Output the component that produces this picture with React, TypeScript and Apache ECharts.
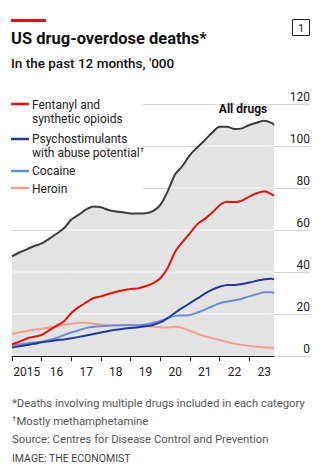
import React, { useEffect, useRef } from "react";
import * as echarts from "echarts";

// Time points (year fractions), roughly quarterly
const years = [
  2015, 2015.25, 2015.5, 2015.75,
  2016, 2016.25, 2016.5, 2016.75,
  2017, 2017.25, 2017.5, 2017.75,
  2018, 2018.25, 2018.5, 2018.75,
  2019, 2019.25, 2019.5, 2019.75,
  2020, 2020.25, 2020.5, 2020.75,
  2021, 2021.25, 2021.5, 2021.75,
  2022, 2022.25, 2022.5, 2022.75,
  2023, 2023.25, 2023.5, 2023.75, 2023.83,
];

// Deaths in the past 12 months, '000
const allDrugs = [
  47.5, 49.3, 50.8, 52.4,
  53.6, 55.8, 58.2, 60.8,
  65.0, 67.3, 69.8, 71.2,
  70.8, 69.5, 68.8, 68.4,
  67.9, 67.9, 68.0, 69.0,
  72.0, 78.5, 86.5, 90.6,
  95.8, 99.4, 102.8, 106.4,
  109.2, 109.2, 108.1, 108.4,
  110.0, 111.1, 112.0, 111.0, 110.0,
];
const fentanyl = [
  5.6, 6.8, 8.3, 9.2,
  10.0, 12.2, 14.3, 16.5,
  20.5, 23.3, 25.5, 27.6,
  28.4, 29.5, 30.5, 31.3,
  31.9, 32.2, 33.2, 34.6,
  37.0, 42.0, 49.7, 54.3,
  58.5, 62.8, 65.3, 68.3,
  71.8, 73.4, 73.3, 74.0,
  75.9, 77.5, 78.5, 77.0, 76.2,
];
const psychostimulants = [
  4.0, 4.6, 5.2, 5.8,
  6.5, 7.0, 7.5, 7.9,
  8.4, 9.1, 9.8, 10.5,
  11.2, 11.9, 12.5, 13.0,
  13.3, 13.7, 14.2, 14.8,
  16.0, 18.1, 20.6, 23.0,
  25.2, 27.4, 29.7, 31.6,
  33.0, 33.8, 33.8, 34.3,
  35.0, 35.8, 36.6, 36.8, 36.5,
];
const cocaine = [
  4.9, 5.5, 6.0, 6.4,
  6.8, 7.6, 8.6, 10.0,
  11.2, 12.3, 13.3, 13.9,
  14.2, 14.4, 14.5, 14.6,
  14.6, 14.6, 15.0, 15.8,
  16.7, 18.0, 19.1, 19.3,
  19.5, 20.7, 22.1, 23.7,
  25.1, 25.9, 26.5, 27.3,
  28.4, 29.4, 30.3, 30.3, 29.8,
];
const heroin = [
  10.5, 11.3, 11.9, 12.5,
  12.9, 13.6, 14.2, 14.8,
  15.4, 15.8, 15.8, 15.4,
  14.9, 14.8, 14.8, 14.8,
  14.7, 14.6, 14.3, 14.0,
  13.7, 13.6, 13.9, 13.3,
  12.0, 10.6, 9.4, 8.5,
  7.6, 6.7, 5.9, 5.3,
  4.8, 4.4, 4.1, 3.9, 3.8,
];

const yTickValues = [0, 20, 40, 60, 80, 100, 120];
const xStart = 2015;
const xEnd = 2023.83;

const FONT = "Roboto, 'Noto Sans', sans-serif";
const RED = "#E3120B";
const DARK_BLUE = "#23399A";
const LIGHT_BLUE = "#6A8ED3";
const SALMON = "#F5A08C";

const pairs = (arr: number[]) => years.map((x, i) => [x, arr[i]]);

// gridline segments that lie inside the shaded "All drugs" area
function levelSegments(g: number) {
  const pts: any[] = [];
  for (let i = 0; i < years.length; i++) {
    const v = allDrugs[i];
    if (i > 0) {
      const p = allDrugs[i - 1];
      if (p < g !== v < g) {
        const t = (g - p) / (v - p);
        pts.push([years[i - 1] + t * (years[i] - years[i - 1]), g]);
      }
    }
    pts.push(v >= g ? [years[i], g] : [years[i], "-"]);
  }
  return pts;
}

const supRich = {
  sup: { fontFamily: FONT, fontSize: 8, fill: "#222", padding: [0, 0, 5, 0] },
};

export default function App() {
  const ref = useRef<HTMLDivElement>(null);

  useEffect(() => {
    const chart = echarts.init(ref.current!, null, { renderer: "svg" });

    const gridSeries = yTickValues
      .filter((g) => g > 0 && g < 120)
      .map((g) => ({
        type: "line",
        xAxisIndex: 1,
        yAxisIndex: 1,
        data: levelSegments(g),
        symbol: "none",
        silent: true,
        connectNulls: false,
        lineStyle: { color: "#fafafa", width: 1 },
        z: 3,
      }));

    const lineSeries = (name: string, arr: number[], color: string, z = 5) => ({
      name,
      type: "line",
      xAxisIndex: 1,
      yAxisIndex: 1,
      data: pairs(arr),
      symbol: "none",
      smooth: 0.3,
      lineStyle: { color, width: 2 },
      z,
    });

    const legendText = (y: number, t: string) => ({
      type: "text",
      x: 32,
      y,
      style: {
        text: t,
        fill: "#222",
        fontFamily: FONT,
        fontSize: 12,
        align: "left",
        verticalAlign: "middle",
        rich: { sup: { fontFamily: FONT, fontSize: 8, fill: "#222", padding: [0, 0, 6, 0] } },
      },
      z: 10,
    });

    const option: any = {
      animation: false,
      backgroundColor: "#ffffff",
      grid: [
        { left: 12, right: 20, top: 104, bottom: 111 },
        { left: 12, right: 56, top: 104, bottom: 111 },
      ],
      xAxis: [
        { type: "value", gridIndex: 0, min: 0, max: 1, show: false },
        {
          type: "value",
          gridIndex: 1,
          min: xStart,
          max: xEnd,
          interval: 1,
          offset: 2,
          axisLine: { show: true, lineStyle: { color: "#222", width: 1 } },
          axisTick: { show: true, length: 5, lineStyle: { color: "#222" } },
          splitLine: { show: false },
          axisLabel: {
            show: true,
            color: "#222",
            fontFamily: FONT,
            fontSize: 12,
            margin: 8,
            align: "center",
            padding: [0, 0, 0, 29.7],
            showMaxLabel: false,
            formatter: (v: number) => {
              if (Math.abs(v - Math.round(v)) > 0.001) return "";
              const y = Math.round(v);
              if (y > 2023) return "";
              return y === 2015 ? "2015" : String(y).slice(2);
            },
          },
        },
      ],
      yAxis: [
        {
          type: "value",
          gridIndex: 0,
          position: "right",
          min: 0,
          max: 120,
          interval: 20,
          axisLine: { show: false },
          axisTick: { show: false },
          splitLine: { show: true, lineStyle: { color: "#d4d4d4", width: 1 } },
          axisLabel: {
            inside: true,
            margin: 0,
            color: "#222",
            fontFamily: FONT,
            fontSize: 12,
            verticalAlign: "bottom",
            align: "right",
            padding: [0, 0, 1, 0],
          },
          z: 0,
        },
        {
          type: "value",
          gridIndex: 1,
          min: 0,
          max: 120,
          interval: 20,
          show: false,
          splitLine: { show: false },
        },
      ],
      series: [
        {
          name: "All drugs area",
          type: "line",
          xAxisIndex: 1,
          yAxisIndex: 1,
          data: pairs(allDrugs),
          symbol: "none",
          smooth: 0.3,
          silent: true,
          lineStyle: { width: 0, opacity: 0 },
          areaStyle: { color: "#e3e3e3", opacity: 1 },
          z: 2,
        },
        ...gridSeries,
        lineSeries("All drugs", allDrugs, "#3c3c3c"),
        lineSeries("Heroin", heroin, SALMON),
        lineSeries("Cocaine", cocaine, LIGHT_BLUE),
        lineSeries("Psychostimulants", psychostimulants, DARK_BLUE),
        lineSeries("Fentanyl", fentanyl, RED),
      ],
      graphic: [
        // white cover behind the legend
        {
          type: "rect",
          shape: { x: 0, y: 94, width: 143, height: 103 },
          style: { fill: "#ffffff" },
          z: 4,
          silent: true,
        },
        {
          type: "rect",
          shape: { x: 11, y: 19, width: 35, height: 3 },
          style: { fill: RED },
          z: 10,
        },
        {
          type: "rect",
          shape: { x: 292.5, y: 19.5, width: 17, height: 16 },
          style: { fill: "none", stroke: "#222", lineWidth: 1 },
          z: 10,
        },
        {
          type: "text",
          x: 301,
          y: 28,
          style: {
            text: "1",
            fill: "#222",
            fontFamily: FONT,
            fontSize: 11,
            align: "center",
            verticalAlign: "middle",
          },
          z: 10,
        },
        {
          type: "text",
          x: 11,
          y: 38,
          style: {
            text: "US drug-overdose deaths*",
            fill: "#111",
            fontFamily: FONT,
            fontSize: 16.5,
            fontWeight: "bold",
            align: "left",
            verticalAlign: "middle",
          },
          z: 10,
        },
        {
          type: "text",
          x: 11,
          y: 63,
          style: {
            text: "In the past 12 months, '000",
            fill: "#111",
            fontFamily: FONT,
            fontSize: 13.5,
            fontWeight: 500,
            align: "left",
            verticalAlign: "middle",
          },
          z: 10,
        },
        // legend
        ...[
          { y: 104, color: RED },
          { y: 139, color: DARK_BLUE },
          { y: 171, color: LIGHT_BLUE },
          { y: 188, color: SALMON },
        ].map((l) => ({
          type: "line",
          shape: { x1: 11, y1: l.y, x2: 29, y2: l.y },
          style: { stroke: l.color, lineWidth: 2.5 },
          z: 10,
        })),
        legendText(105, "Fentanyl and"),
        legendText(118.5, "synthetic opioids"),
        legendText(139, "Psychostimulants"),
        legendText(152.5, "with abuse potential{sup|\u2020}"),
        legendText(171, "Cocaine"),
        legendText(188.5, "Heroin"),
        {
          type: "text",
          x: 243,
          y: 109,
          style: {
            text: "All drugs",
            fill: "#111",
            fontFamily: FONT,
            fontSize: 12,
            fontWeight: "bold",
            align: "center",
            verticalAlign: "middle",
          },
          z: 10,
        },
        // footnotes
        ...[
          { y: 403, t: "*Deaths involving multiple drugs included in each category", s: 11.3, c: "#555" },
          { y: 421, t: "{sup|\u2020}Mostly methamphetamine", s: 11.3, c: "#555" },
          { y: 439, t: "Source: Centres for Disease Control and Prevention", s: 11.3, c: "#555" },
          { y: 458, t: "IMAGE: THE ECONOMIST", s: 10.5, c: "#444" },
        ].map((l) => ({
          type: "text",
          x: 12,
          y: l.y,
          style: {
            text: l.t,
            fill: l.c,
            fontFamily: FONT,
            fontSize: l.s,
            align: "left",
            verticalAlign: "middle",
            rich: { sup: { fontFamily: FONT, fontSize: 8, fill: l.c, padding: [0, 0, 5, 0] } },
          },
          z: 10,
        })),
      ],
    };

    chart.setOption(option);
    return () => chart.dispose();
  }, []);

  return (
    <div
      ref={ref}
      style={{ position: "absolute", left: 0, top: 0, width: 330, height: 467, background: "#fff" }}
    />
  );
}
